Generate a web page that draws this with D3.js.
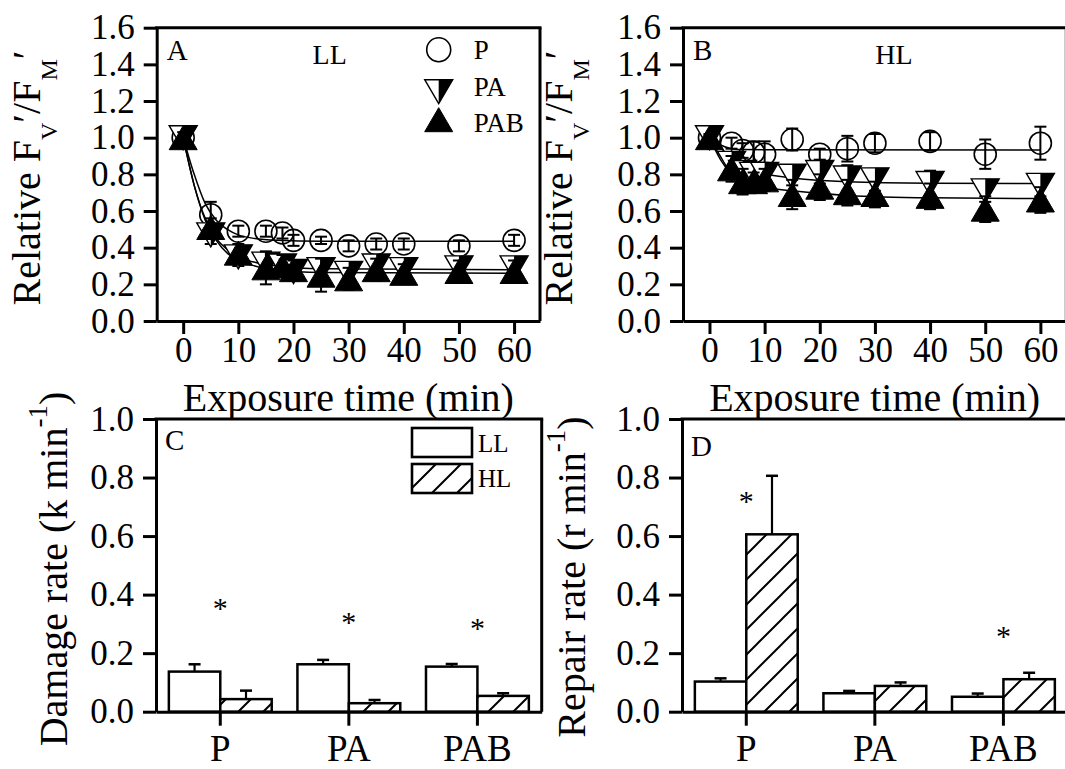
<!DOCTYPE html>
<html>
<head>
<meta charset="utf-8">
<script src="https://cdn.jsdelivr.net/npm/d3@7"></script>
<style>
  body { margin: 0; background: #fff; }
  svg text { font-family: 'Liberation Serif', 'Times New Roman', serif; }
</style>
</head>
<body>
<svg id="chart" width="1065" height="769"></svg>
<script>
// ---- data ----
var timesLL = [0, 5, 10, 15, 18, 20, 25, 30, 35, 40, 50, 60];
var llP      = [1.0, 0.58, 0.49, 0.49, 0.48, 0.44, 0.44, 0.41, 0.42, 0.42, 0.41, 0.44];
var llPErr   = [0.03, 0.07, 0.03, 0.03, 0.03, 0.03, 0.02, 0.03, 0.03, 0.03, 0.03, 0.03];
var llPA     = [1.0, 0.47, 0.35, 0.31, 0.30, 0.27, 0.28, 0.26, 0.30, 0.28, 0.29, 0.29];
var llPAErr  = [0.03, 0.05, 0.05, 0.06, 0.06, 0.05, 0.05, 0.05, 0.06, 0.06, 0.05, 0.05];
var llPAB    = [1.0, 0.51, 0.37, 0.29, 0.30, 0.28, 0.25, 0.23, 0.28, 0.26, 0.27, 0.27];
var llPABErr = [0.03, 0.05, 0.05, 0.09, 0.06, 0.05, 0.09, 0.06, 0.06, 0.05, 0.06, 0.06];

var timesHL = [0, 4, 6, 8, 10, 15, 20, 25, 30, 40, 50, 60];
var hlP      = [1.0, 0.97, 0.93, 0.92, 0.91, 0.99, 0.91, 0.94, 0.97, 0.98, 0.91, 0.97];
var hlPErr   = [0.02, 0.03, 0.04, 0.06, 0.07, 0.06, 0.03, 0.07, 0.05, 0.05, 0.08, 0.09];
var hlPA     = [1.0, 0.86, 0.81, 0.80, 0.80, 0.79, 0.81, 0.78, 0.77, 0.75, 0.71, 0.74];
var hlPAErr  = [0.02, 0.06, 0.06, 0.05, 0.06, 0.05, 0.06, 0.07, 0.06, 0.07, 0.06, 0.06];
var hlPAB    = [1.0, 0.83, 0.76, 0.76, 0.77, 0.69, 0.73, 0.70, 0.69, 0.68, 0.61, 0.66];
var hlPABErr = [0.02, 0.07, 0.07, 0.05, 0.06, 0.08, 0.07, 0.07, 0.07, 0.07, 0.07, 0.07];

// fitted curves as [time, value]
var fitLLP   = [[0, 1.0], [2, 0.8], [4, 0.64], [6, 0.55], [8, 0.5], [10, 0.47], [13, 0.45], [17, 0.44], [25, 0.435], [60, 0.435]];
var fitLLPA  = [[0, 1.0], [2, 0.74], [4, 0.56], [6, 0.45], [8, 0.39], [10, 0.35], [13, 0.32], [17, 0.30], [25, 0.285], [60, 0.28]];
var fitLLPAB = [[0, 1.0], [2, 0.74], [4, 0.55], [6, 0.44], [8, 0.37], [10, 0.33], [13, 0.30], [17, 0.28], [25, 0.265], [60, 0.26]];
var fitHLP   = [[0, 1.0], [2, 0.96], [4, 0.94], [6, 0.935], [60, 0.933]];
var fitHLPA  = [[0, 1.0], [2, 0.9], [4, 0.85], [6, 0.82], [10, 0.8], [15, 0.78], [25, 0.76], [40, 0.752], [60, 0.75]];
var fitHLPAB = [[0, 1.0], [2, 0.88], [4, 0.8], [6, 0.76], [10, 0.73], [15, 0.71], [25, 0.685], [40, 0.672], [60, 0.668]];

var lineTicksY = [0, 0.2, 0.4, 0.6, 0.8, 1.0, 1.2, 1.4, 1.6];
var lineTicksX = [0, 10, 20, 30, 40, 50, 60];

var cats = ['P', 'PA', 'PAB'];
var damageLL    = [0.137, 0.162, 0.154];
var damageLLErr = [0.025, 0.015, 0.009];
var damageHL    = [0.043, 0.029, 0.054];
var damageHLErr = [0.029, 0.011, 0.009];
var damageStar  = [0.367, 0.319, 0.300];
var repairLL    = [0.103, 0.063, 0.051];
var repairLLErr = [0.011, 0.008, 0.011];
var repairHL    = [0.606, 0.088, 0.111];
var repairHLErr = [0.200, 0.012, 0.022];
var repairStar  = [0.735, null, 0.273];
var barTicksY = [0, 0.2, 0.4, 0.6, 0.8, 1.0];

var SERIF = "'Liberation Serif', 'Times New Roman', serif";
var svg = d3.select('#chart');

// hatch for HL bars
var pat = svg.append('defs').append('pattern')
  .attr('id', 'hatch')
  .attr('patternUnits', 'userSpaceOnUse')
  .attr('width', 25).attr('height', 25);
pat.append('rect').attr('width', 25).attr('height', 25).attr('fill', '#fff');
pat.append('path')
  .attr('d', 'M-5,5 L5,-5 M0,25 L25,0 M20,30 L30,20')
  .attr('stroke', '#000').attr('stroke-width', 2);

function styleAxis(sel, size) {
  sel.attr('font-family', SERIF).attr('font-size', size);
  sel.select('path.domain').attr('stroke', '#000').attr('stroke-width', 3);
  sel.selectAll('.tick line').attr('stroke', '#000').attr('stroke-width', 3);
  sel.selectAll('.tick text').attr('fill', '#000')
    .style('font-family', SERIF).style('font-size', size + 'px');
}

function frame(g, w, h) {
  g.append('line').attr('x1', 0).attr('y1', 0).attr('x2', w).attr('y2', 0)
    .attr('stroke', '#000').attr('stroke-width', 3).attr('stroke-linecap', 'square');
  g.append('line').attr('x1', w).attr('y1', 0).attr('x2', w).attr('y2', h)
    .attr('stroke', '#000').attr('stroke-width', 3);
}

function marker(sel, kind, r) {
  if (kind == 'circle') {
    sel.append('circle').attr('r', r).attr('fill', 'none').attr('stroke', '#000').attr('stroke-width', 1.6);
  } else if (kind == 'down') {
    sel.append('path').attr('d', 'M0,12 L-14,-12 L14,-12 Z').attr('fill', '#fff').attr('stroke', '#000').attr('stroke-width', 1.4);
    sel.append('path').attr('d', 'M0,12 L0,-12 L14,-12 Z').attr('fill', '#000');
  } else {
    sel.append('path').attr('d', 'M0,-12 L14,12 L-14,12 Z').attr('fill', '#000').attr('stroke', '#000').attr('stroke-width', 1);
  }
}

// y title with tspans, rotated
function yTitle(x, cy, parts) {
  var t = svg.append('g').attr('transform', 'translate(' + x + ',' + cy + ') rotate(-90)')
    .append('text').attr('text-anchor', 'middle').style('font-size', '40px');
  parts.forEach(function(p) {
    var s = t.append('tspan').text(p.t);
    if (p.size) s.style('font-size', p.size + 'px');
    if (p.dy) s.attr('dy', p.dy);
  });
}

function drawLinePanel(p) {
  var g = svg.append('g').attr('transform', 'translate(' + p.left + ',' + p.top + ')');
  var x = d3.scaleLinear().domain([-4.8, 64.7]).range([0, p.width]);
  var y = d3.scaleLinear().domain([0, 1.6]).range([p.height, 0]);

  frame(g, p.width, p.height);

  var line = d3.line()
    .x(function(d) { return x(d[0]); })
    .y(function(d) { return y(d[1]); })
    .curve(d3.curveMonotoneX);
  p.fits.forEach(function(f) {
    g.append('path').attr('d', line(f)).attr('fill', 'none').attr('stroke', '#000').attr('stroke-width', 1.5);
  });

  p.series.forEach(function(s) {
    var pts = p.times.map(function(t, i) { return { t: t, v: s.values[i], e: s.err[i] }; });
    var eb = g.append('g').selectAll('g').data(pts).join('g')
      .attr('transform', function(d) { return 'translate(' + x(d.t) + ',0)'; });
    eb.append('line').attr('y1', function(d) { return y(d.v - d.e); }).attr('y2', function(d) { return y(d.v + d.e); })
      .attr('stroke', '#000').attr('stroke-width', 2);
    eb.append('line').attr('x1', -6).attr('x2', 6).attr('y1', function(d) { return y(d.v + d.e); }).attr('y2', function(d) { return y(d.v + d.e); })
      .attr('stroke', '#000').attr('stroke-width', 2);
    eb.append('line').attr('x1', -6).attr('x2', 6).attr('y1', function(d) { return y(d.v - d.e); }).attr('y2', function(d) { return y(d.v - d.e); })
      .attr('stroke', '#000').attr('stroke-width', 2);
    var mk = g.append('g').selectAll('g').data(pts).join('g')
      .attr('transform', function(d) { return 'translate(' + x(d.t) + ',' + y(d.v) + ')'; });
    marker(mk, s.kind, 11);
  });

  var ya = g.append('g')
    .call(d3.axisLeft(y).tickValues(lineTicksY).tickFormat(d3.format('.1f')).tickSize(13).tickSizeOuter(0).tickPadding(9));
  styleAxis(ya, 35);
  var xa = g.append('g').attr('transform', 'translate(0,' + p.height + ')')
    .call(d3.axisBottom(x).tickValues(lineTicksX).tickSize(13).tickSizeOuter(0).tickPadding(3));
  styleAxis(xa, 35);

  g.append('text').attr('x', 10).attr('y', 32).style('font-size', '29px').text(p.letter);
  g.append('text').attr('x', p.condX).attr('y', 36).attr('text-anchor', 'middle').style('font-size', '28px').text(p.cond);
  g.append('text').attr('x', p.width / 2).attr('y', 383).attr('text-anchor', 'middle').style('font-size', '40px')
    .text('Exposure time (min)');

  if (p.legend) {
    var names = ['P', 'PA', 'PAB'];
    var kinds = ['circle', 'down', 'up'];
    var ly = [22, 64, 92];
    var ty = [31.5, 68.5, 104];
    names.forEach(function(n, i) {
      var lg = g.append('g').attr('transform', 'translate(282,' + ly[i] + ')');
      marker(lg, kinds[i], 12);
      g.append('text').attr('x', 317).attr('y', ty[i]).style('font-size', '27px').text(n);
    });
  }
}

function drawBarPanel(p) {
  var g = svg.append('g').attr('transform', 'translate(' + p.left + ',' + p.top + ')');
  var x = d3.scaleBand().domain(cats).range([0, p.width]);
  var y = d3.scaleLinear().domain([0, 1.0]).range([p.height, 0]);
  var bw = x.bandwidth() * 0.4;

  frame(g, p.width, p.height);

  var groups = [
    { vals: p.ll, err: p.llErr, off: -bw, fill: '#fff' },
    { vals: p.hl, err: p.hlErr, off: 0, fill: 'url(#hatch)' }
  ];
  groups.forEach(function(gr) {
    var d = cats.map(function(c, i) { return { c: c, v: gr.vals[i], e: gr.err[i] }; });
    var cx = function(dd) { return x(dd.c) + x.bandwidth() / 2 + gr.off + bw / 2; };
    g.append('g').selectAll('line').data(d).join('line')
      .attr('x1', cx).attr('x2', cx)
      .attr('y1', function(dd) { return y(dd.v); }).attr('y2', function(dd) { return y(dd.v + dd.e); })
      .attr('stroke', '#000').attr('stroke-width', 2.2);
    g.append('g').selectAll('line').data(d).join('line')
      .attr('x1', function(dd) { return cx(dd) - 6; }).attr('x2', function(dd) { return cx(dd) + 6; })
      .attr('y1', function(dd) { return y(dd.v + dd.e); }).attr('y2', function(dd) { return y(dd.v + dd.e); })
      .attr('stroke', '#000').attr('stroke-width', 2.5);
    g.append('g').selectAll('rect').data(d).join('rect')
      .attr('x', function(dd) { return x(dd.c) + x.bandwidth() / 2 + gr.off; })
      .attr('width', bw)
      .attr('y', function(dd) { return y(dd.v); })
      .attr('height', function(dd) { return y(0) - y(dd.v); })
      .attr('fill', gr.fill).attr('stroke', '#000').attr('stroke-width', 2.5);
  });

  var stars = cats.map(function(c, i) { return { c: c, v: p.star[i] }; }).filter(function(d) { return d.v != null; });
  g.append('g').selectAll('text').data(stars).join('text')
    .attr('x', function(d) { return x(d.c) + x.bandwidth() / 2; })
    .attr('y', function(d) { return y(d.v); })
    .attr('dy', '0.47em')
    .attr('text-anchor', 'middle').style('font-size', '30px').text('*');

  var ya = g.append('g')
    .call(d3.axisLeft(y).tickValues(barTicksY).tickFormat(d3.format('.1f')).tickSize(13).tickSizeOuter(0).tickPadding(9));
  styleAxis(ya, 35);
  var xa = g.append('g').attr('transform', 'translate(0,' + p.height + ')')
    .call(d3.axisBottom(x).tickSize(14).tickSizeOuter(0).tickPadding(9));
  styleAxis(xa, 37);

  g.append('text').attr('x', 9).attr('y', p.letterY).style('font-size', '29px').text(p.letter);

  if (p.legend) {
    g.append('rect').attr('x', 256).attr('y', 9).attr('width', 60).attr('height', 29)
      .attr('fill', '#fff').attr('stroke', '#000').attr('stroke-width', 2.6);
    g.append('rect').attr('x', 256).attr('y', 45).attr('width', 60).attr('height', 29)
      .attr('fill', 'url(#hatch)').attr('stroke', '#000').attr('stroke-width', 2.6);
    g.append('text').attr('x', 322).attr('y', 33).style('font-size', '25px').text('LL');
    g.append('text').attr('x', 322).attr('y', 68).style('font-size', '25px').text('HL');
  }
}

drawLinePanel({
  left: 156.7, top: 27.7, width: 383.3, height: 293.3,
  times: timesLL, letter: 'A', cond: 'LL', condX: 173, legend: true,
  fits: [fitLLP, fitLLPA, fitLLPAB],
  series: [
    { values: llP, err: llPErr, kind: 'circle' },
    { values: llPA, err: llPAErr, kind: 'down' },
    { values: llPAB, err: llPABErr, kind: 'up' }
  ]
});
drawLinePanel({
  left: 683, top: 27.7, width: 383.3, height: 293.3,
  times: timesHL, letter: 'B', cond: 'HL', condX: 211, legend: false,
  fits: [fitHLP, fitHLPA, fitHLPAB],
  series: [
    { values: hlP, err: hlPErr, kind: 'circle' },
    { values: hlPA, err: hlPAErr, kind: 'down' },
    { values: hlPAB, err: hlPABErr, kind: 'up' }
  ]
});
drawBarPanel({
  left: 156, top: 419, width: 385.7, height: 292.7,
  ll: damageLL, llErr: damageLLErr, hl: damageHL, hlErr: damageHLErr, star: damageStar,
  letter: 'C', letterY: 31, legend: true
});
drawBarPanel({
  left: 682, top: 419, width: 385.7, height: 292.7,
  ll: repairLL, llErr: repairLLErr, hl: repairHL, hlErr: repairHLErr, star: repairStar,
  letter: 'D', letterY: 37, legend: false
});

var fvfm = [
  { t: 'Relative F' }, { t: 'V', size: 24, dy: 17 }, { t: '\u2032', size: 40, dy: -17 },
  { t: '/F' }, { t: 'M', size: 24, dy: 17 }, { t: '\u2032', size: 40, dy: -17 }
];
yTitle(40, 178, fvfm);
yTitle(572, 178, fvfm);
yTitle(67, 569, [{ t: 'Damage rate (k min' }, { t: '-1', size: 27, dy: -20 }, { t: ')', size: 40, dy: 20 }]);
yTitle(585, 577, [{ t: 'Repair rate (r min' }, { t: '-1', size: 27, dy: -20 }, { t: ')', size: 40, dy: 20 }]);
</script>
</body>
</html>
